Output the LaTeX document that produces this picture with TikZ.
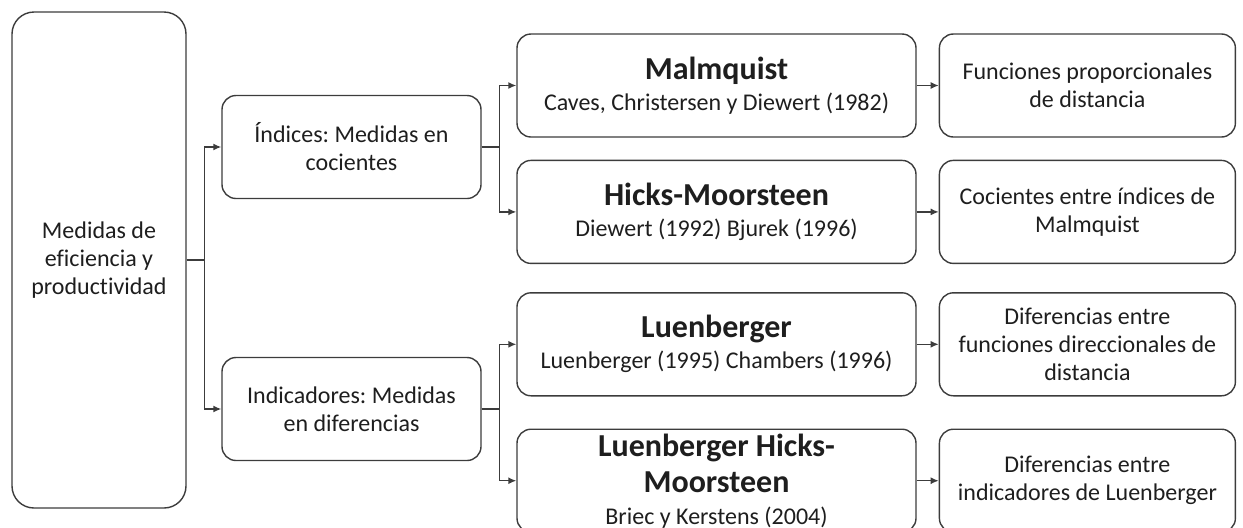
\documentclass[tikz,border=0pt]{standalone}
\usepackage{fontspec}
\setmainfont[Ligatures=NoCommon]{Carlito}
\frenchspacing
\usepackage{tikz}
\usetikzlibrary{arrows.meta,positioning}
\definecolor{linec}{RGB}{60,60,60}
\definecolor{textc}{RGB}{30,30,30}

\begin{document}
\begin{tikzpicture}[x=0.5pt,y=-0.5pt,>={Latex[length=4pt,width=3.5pt]},
  line width=0.7pt,node distance=11pt,
  box/.style={draw=linec,text=textc,align=center,rounded corners=7pt,
    font=\fontsize{12}{14}\selectfont},
  root node/.style={box,rounded corners=11pt,minimum width=87pt,minimum height=248pt},
  class node/.style={box,minimum width=129.5pt,minimum height=51.5pt},
  index node/.style={box,minimum width=199.5pt,minimum height=51.5pt,inner sep=2pt},
  basis node/.style={box,minimum width=148pt,minimum height=51.5pt}]
  \useasboundingbox (0,0) rectangle (1243,527);
  \clip (0,0) rectangle (1243,527);

  \node[root node] (root) at (99,260) {Medidas de\\eficiencia y\\productividad};
  \node[class node] (idx) at (351.5,147) {Índices: Medidas en\\cocientes};
  \node[class node] (ind) at (351.5,409) {Indicadores: Medidas\\en diferencias};

  \node[index node] (mal) at (716.5,85.5)
    {{\fontsize{16}{19}\selectfont\bfseries Malmquist}\\[1.5pt]Caves, Christersen y Diewert (1982)};
  \node[index node] (hm) [below=11pt of mal]
    {{\fontsize{16}{19}\selectfont\bfseries Hicks-Moorsteen}\\[1.5pt]Diewert (1992) Bjurek (1996)};
  \node[index node] (lu) [below=14pt of hm]
    {{\fontsize{16}{19}\selectfont\bfseries Luenberger}\\[1.5pt]Luenberger (1995) Chambers (1996)};
  \node[index node,inner sep=0pt] (lhm) [below=16pt of lu]
    {{\fontsize{16}{19}\selectfont\bfseries Luenberger Hicks-}\\[4pt]
     {\fontsize{16}{19}\selectfont\bfseries Moorsteen}\\[2pt]Briec y Kerstens (2004)};

  \node[basis node] (fpd) [right=11pt of mal] {Funciones proporcionales\\de distancia};
  \node[basis node] (cim) [right=11pt of hm] {Cocientes entre índices de\\Malmquist};
  \node[basis node] (dfd) [right=11pt of lu] {Diferencias entre\\funciones direccionales de\\distancia};
  \node[basis node] (dil) [right=11pt of lhm] {Diferencias entre\\indicadores de Luenberger};

  \draw[->,linec] (root.east) -- ++(9pt,0) |- (idx.west);
  \draw[->,linec] (root.east) -- ++(9pt,0) |- (ind.west);
  \draw[->,linec] (idx.east) -- ++(9pt,0) |- (mal.west);
  \draw[->,linec] (idx.east) -- ++(9pt,0) |- (hm.west);
  \draw[->,linec] (ind.east) -- ++(9pt,0) |- (lu.west);
  \draw[->,linec] (ind.east) -- ++(9pt,0) |- (lhm.west);
  \draw[->,linec] (mal) -- (fpd);
  \draw[->,linec] (hm) -- (cim);
  \draw[->,linec] (lu) -- (dfd);
  \draw[->,linec] (lhm) -- (dil);
\end{tikzpicture}
\end{document}
